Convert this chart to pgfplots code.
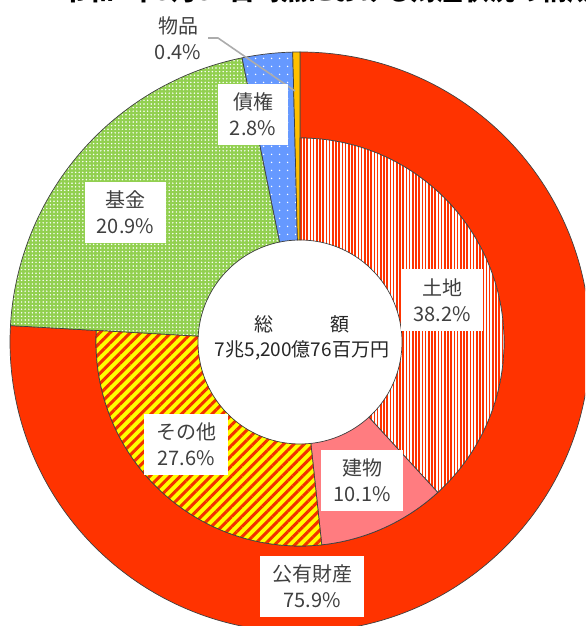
\documentclass[border=0pt]{standalone}
\usepackage{pgfplots}
\pgfplotsset{compat=1.18}
\usepackage{fontspec}
\newfontfamily\jp{Noto Sans CJK JP}
\usetikzlibrary{patterns.meta}
\definecolor{kouyu}{HTML}{FF3300}
\definecolor{tatemono}{HTML}{FF7C80}
\definecolor{kikin}{HTML}{92D050}
\definecolor{saiken}{HTML}{6699FF}
\definecolor{buppin}{HTML}{FFC000}
\definecolor{sonota}{HTML}{FFFF00}
\definecolor{lbl}{HTML}{404040}
\definecolor{edge}{HTML}{404040}
% annular sector: #1 start (%), #2 share (%), #3 inner radius, #4 outer radius (px), #5 style
\newcommand{\sect}[5]{%
  \path[shift={(axis cs:300,284)},#5]
    ({90-3.6*(#1)}:{#4*0.5pt})
    arc[start angle={90-3.6*(#1)}, end angle={90-3.6*(#1+#2)}, radius={#4*0.5pt}]
    -- ({90-3.6*(#1+#2)}:{#3*0.5pt})
    arc[start angle={90-3.6*(#1+#2)}, end angle={90-3.6*(#1)}, radius={#3*0.5pt}]
    -- cycle;}
\begin{document}
\begin{tikzpicture}
\useasboundingbox (0,0) rectangle (292.5pt,313pt);
\begin{scope}
\clip (0,0) rectangle (292.5pt,313pt);
\begin{axis}[hide axis, scale only axis, width=292.5pt, height=313pt,
  xmin=0, xmax=585, ymin=0, ymax=626, clip=true]
% outer ring
\sect{0}{75.9}{204}{290}{fill=kouyu, draw=edge, line width=0.35pt}
\sect{75.9}{20.9}{102}{290}{preaction={fill=kikin}, pattern={Dots[distance=1.8pt, radius=0.42pt]}, pattern color=white, draw=edge, line width=0.35pt}
\sect{96.8}{2.8}{102}{290}{preaction={fill=saiken}, pattern={Dots[distance=4pt, radius=0.45pt]}, pattern color=white, draw=edge, line width=0.35pt}
\sect{99.6}{0.4}{102}{290}{fill=buppin, draw=edge, line width=0.35pt}
% inner ring
\sect{0}{38.2}{102}{204}{preaction={fill=white}, pattern={Lines[angle=90, distance=1.6pt, line width=0.8pt]}, pattern color=kouyu, draw=edge, line width=0.35pt}
\sect{38.2}{10.1}{102}{204}{fill=tatemono, draw=edge, line width=0.35pt}
\sect{48.3}{27.6}{102}{204}{preaction={fill=sonota}, pattern={Lines[angle=45, distance=3.6pt, line width=1.5pt]}, pattern color=kouyu!95!black, draw=edge, line width=0.35pt}
% leader line for 物品
\draw[gray!65, line width=0.8pt] (axis cs:208,588) -- (axis cs:218,588) -- (axis cs:295,535);
% labels
\tikzset{lab/.style={fill=white, inner xsep=6pt, inner ysep=4.5pt, align=center, text=lbl, font=\jp\fontsize{10}{13}\selectfont}}
\node[lab] at (axis cs:312,39.5) {公有財産\\75.9\%};
\node[lab] at (axis cs:442,326) {土地\\38.2\%};
\node[lab] at (axis cs:362,145.5) {建物\\10.1\%};
\node[lab] at (axis cs:186,181.5) {その他\\27.6\%};
\node[lab] at (axis cs:125.5,413.5) {基金\\20.9\%};
\node[lab] at (axis cs:253,511.5) {債権\\2.8\%};
\node[lab, fill=none] at (axis cs:178,587.5) {物品\\0.4\%};
% centre
\node[align=center, text=black!85, font=\jp\fontsize{9.5}{12.5}\selectfont] at (axis cs:302,288.5) {総　　　額\\7兆5,200億76百万円};
% title (cut off at the top edge, as in the reference)
\node[anchor=base west, font=\jp\bfseries\fontsize{13}{13}\selectfont, text=black] at (axis cs:55,625) {令和4年3月31日時点における財産状況の構成};
\end{axis}
\end{scope}
\end{tikzpicture}
\end{document}
